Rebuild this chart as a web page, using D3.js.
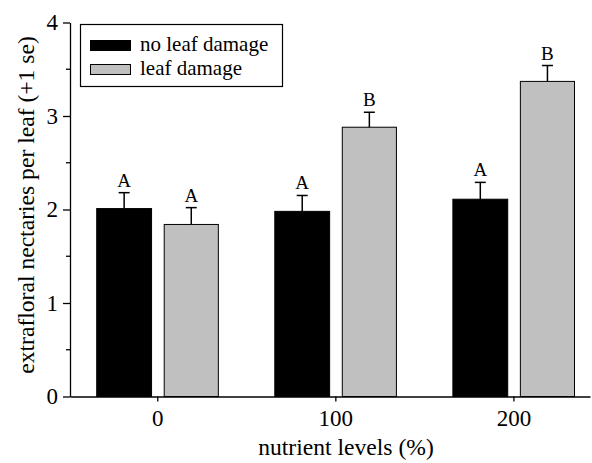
<!DOCTYPE html>
<html>
<head>
<meta charset="utf-8">
<script src="https://cdn.jsdelivr.net/npm/d3@7"></script>
<style>
  body { margin: 0; background: #fff; }
  svg text { font-family: "Liberation Serif", "Times New Roman", serif; }
</style>
</head>
<body>
<svg id="chart" width="592" height="463"></svg>
<script>
// data
var levels = [0, 100, 200];
var noDamage = [2.01, 1.98, 2.11];
var noDamageSe = [0.17, 0.17, 0.18];
var damage = [1.84, 2.88, 3.37];
var damageSe = [0.18, 0.16, 0.17];
var noDamageLetters = ["A", "A", "A"];
var damageLetters = ["A", "B", "B"];
var yTicks = [0, 1, 2, 3, 4];
var yMinor = [0.5, 1.5, 2.5, 3.5];

var serif = "Liberation Serif, serif";
var svg = d3.select("#chart");

var x = d3.scaleLinear().domain([-49, 243]).range([70, 590]);
var y = d3.scaleLinear().domain([0, 4]).range([396.5, 22.5]);

// bar offsets in x units (left edge / right edge relative to level)
var series = [
  { name: "no leaf damage", fill: "#000", vals: noDamage, se: noDamageSe, letters: noDamageLetters, x0: -34, x1: -3.2 },
  { name: "leaf damage", fill: "#c0c0c0", vals: damage, se: damageSe, letters: damageLetters, x0: 3.9, x1: 34.3 }
];

series.forEach(function(s) {
  var g = svg.append("g");
  levels.forEach(function(lv, i) {
    var left = x(lv + s.x0), right = x(lv + s.x1), mid = (left + right) / 2;
    g.append("rect")
      .attr("x", left).attr("y", y(s.vals[i]))
      .attr("width", right - left).attr("height", y(0) - y(s.vals[i]))
      .attr("fill", s.fill).attr("stroke", "#000").attr("stroke-width", 1);
    var top = y(s.vals[i] + s.se[i]);
    g.append("line")
      .attr("x1", mid).attr("x2", mid)
      .attr("y1", y(s.vals[i])).attr("y2", top)
      .attr("stroke", "#000").attr("stroke-width", 1.5);
    g.append("line")
      .attr("x1", mid - 5.5).attr("x2", mid + 5.5)
      .attr("y1", top).attr("y2", top)
      .attr("stroke", "#000").attr("stroke-width", 1.5);
    g.append("text")
      .attr("x", mid).attr("y", top - 6)
      .attr("text-anchor", "middle")
      .attr("font-family", serif)
      .attr("font-size", 19)
      .text(s.letters[i]);
  });
});

// y axis
var yAxis = d3.axisLeft(y).tickValues(yTicks).tickFormat(d3.format("d"))
  .tickSize(7).tickSizeOuter(0).tickPadding(5);
var ya = svg.append("g").attr("transform", "translate(70,0)").call(yAxis);
ya.selectAll("text").attr("font-size", 23).attr("font-family", serif).attr("fill", "#000");
ya.selectAll("line, path").attr("stroke", "#000").attr("stroke-width", 1.3);
ya.selectAll(".minor").data(yMinor).enter().append("line")
  .attr("class", "minor")
  .attr("x1", -4).attr("x2", 0)
  .attr("y1", function(d) { return y(d); }).attr("y2", function(d) { return y(d); })
  .attr("stroke", "#000").attr("stroke-width", 1.3);

// x axis
var xAxis = d3.axisBottom(x).tickValues(levels).tickSize(5).tickSizeOuter(0).tickPadding(8);
var xa = svg.append("g").attr("transform", "translate(0," + y(0) + ")").call(xAxis);
xa.selectAll("text").attr("font-size", 23).attr("font-family", serif).attr("fill", "#000");
xa.selectAll("line, path").attr("stroke", "#000").attr("stroke-width", 1.3);

// axis titles
svg.append("text")
  .attr("x", 346).attr("y", 455)
  .attr("text-anchor", "middle").attr("font-size", 23.6).attr("font-family", serif)
  .text("nutrient levels (%)");
svg.append("text")
  .attr("transform", "translate(34,205) rotate(-90)")
  .attr("text-anchor", "middle").attr("font-size", 23.6).attr("font-family", serif)
  .text("extrafloral nectaries per leaf (+1 se)");

// legend
var lg = svg.append("g");
lg.append("rect")
  .attr("x", 80.5).attr("y", 24.5).attr("width", 202).attr("height", 62)
  .attr("fill", "#fff").attr("stroke", "#000").attr("stroke-width", 1.2);
series.forEach(function(s, i) {
  lg.append("rect")
    .attr("x", 90.5).attr("y", 40.5 + i * 24).attr("width", 40).attr("height", 10)
    .attr("fill", s.fill).attr("stroke", "#000").attr("stroke-width", 1);
  lg.append("text")
    .attr("x", 140).attr("y", 51 + i * 24)
    .attr("font-size", 21).attr("font-family", serif)
    .text(s.name);
});
</script>
</body>
</html>
